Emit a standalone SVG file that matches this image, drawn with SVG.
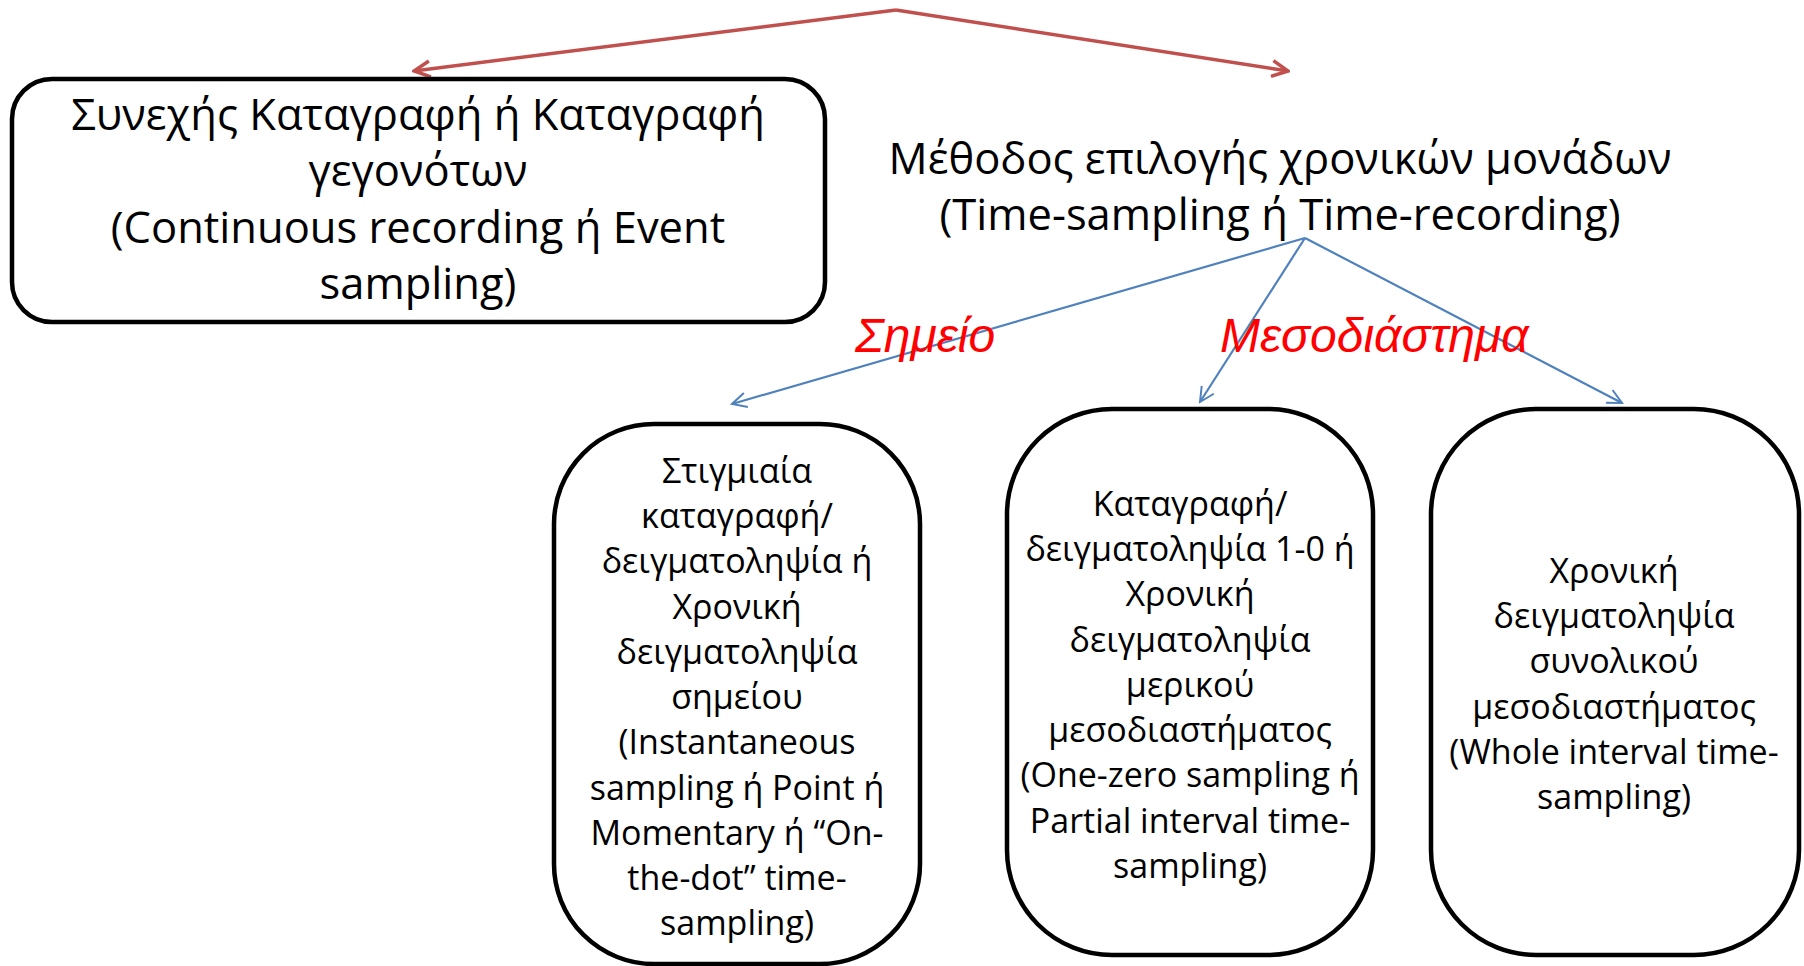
<svg xmlns="http://www.w3.org/2000/svg" width="1804" height="966" viewBox="0 0 1804 966">
<defs>
<style>
.box{fill:#fff;stroke:#000;stroke-width:4.5}
.t{font-family:"Open Sans","Noto Sans","DejaVu Sans",sans-serif;fill:#000;text-anchor:middle}
.big{font-size:43.5px}
.sm{font-size:34px}
.lbl{font-family:"Liberation Sans",Arial,sans-serif;font-style:italic;font-size:48px;fill:#FF0000}
.red{stroke:#C0504D;stroke-width:3.5;fill:none}
.blue{stroke:#4F81BD;stroke-width:2.2;fill:none}
</style>
<marker id="ar" viewBox="0 0 20 20" refX="18" refY="10" markerWidth="20" markerHeight="20" markerUnits="userSpaceOnUse" orient="auto">
<path d="M2,2 L18,10 L2,18" fill="none" stroke="#C0504D" stroke-width="3.5"/>
</marker>
<marker id="ab" viewBox="0 0 20 20" refX="18" refY="10" markerWidth="18" markerHeight="18" markerUnits="userSpaceOnUse" orient="auto">
<path d="M2,2 L18,10 L2,18" fill="none" stroke="#4F81BD" stroke-width="2.2"/>
</marker>
</defs>
<rect width="1804" height="966" fill="#fff"/>
<g id="connectors">
<path class="red" d="M896,10 L414,71" marker-end="url(#ar)"/>
<path class="red" d="M896,10 L1288,71" marker-end="url(#ar)"/>
<path class="blue" d="M1305,238 L732,404" marker-end="url(#ab)"/>
<path class="blue" d="M1305,238 L1200,402" marker-end="url(#ab)"/>
<path class="blue" d="M1305,238 L1622,403" marker-end="url(#ab)"/>
</g>
<g id="node-continuous">
<rect class="box" x="12" y="79" width="813" height="243" rx="40" ry="40"/>
<text class="t big" x="418"><tspan x="418" y="130">Συνεχής Καταγραφή ή Καταγραφή</tspan><tspan x="418" y="186">γεγονότων</tspan><tspan x="418" y="243">(Continuous recording ή Event</tspan><tspan x="418" y="299">sampling)</tspan></text>
</g>
<g id="node-timesampling">
<text class="t big" x="1280"><tspan x="1280" y="174">Μέθοδος επιλογής χρονικών μονάδων</tspan><tspan x="1280" y="230">(Time-sampling ή Time-recording)</tspan></text>
</g>
<g id="labels">
<text class="lbl" x="855" y="352">Σημείο</text>
<text class="lbl" x="1220" y="352">Μεσοδιάστημα</text>
</g>
<g id="node-point">
<rect class="box" x="554" y="424" width="366" height="540" rx="100" ry="100"/>
<text class="t sm"><tspan x="737" y="483">Στιγμιαία</tspan><tspan x="737" y="528">καταγραφή/</tspan><tspan x="737" y="573">δειγματοληψία ή</tspan><tspan x="737" y="619">Χρονική</tspan><tspan x="737" y="664">δειγματοληψία</tspan><tspan x="737" y="709">σημείου</tspan><tspan x="737" y="754">(Instantaneous</tspan><tspan x="737" y="800">sampling ή Point ή</tspan><tspan x="737" y="845">Momentary ή “On-</tspan><tspan x="737" y="890">the-dot” time-</tspan><tspan x="737" y="935">sampling)</tspan></text>
</g>
<g id="node-partial">
<rect class="box" x="1007" y="409" width="366" height="546" rx="105" ry="105"/>
<text class="t sm"><tspan x="1190" y="516">Καταγραφή/</tspan><tspan x="1190" y="561">δειγματοληψία 1-0 ή</tspan><tspan x="1190" y="606">Χρονική</tspan><tspan x="1190" y="652">δειγματοληψία</tspan><tspan x="1190" y="697">μερικού</tspan><tspan x="1190" y="742">μεσοδιαστήματος</tspan><tspan x="1190" y="787">(One-zero sampling ή</tspan><tspan x="1190" y="833">Partial interval time-</tspan><tspan x="1190" y="878">sampling)</tspan></text>
</g>
<g id="node-whole">
<rect class="box" x="1431" y="409" width="368" height="546" rx="105" ry="105"/>
<text class="t sm"><tspan x="1614" y="583">Χρονική</tspan><tspan x="1614" y="628">δειγματοληψία</tspan><tspan x="1614" y="673">συνολικού</tspan><tspan x="1614" y="719">μεσοδιαστήματος</tspan><tspan x="1614" y="764">(Whole interval time-</tspan><tspan x="1614" y="809">sampling)</tspan></text>
</g>
</svg>
